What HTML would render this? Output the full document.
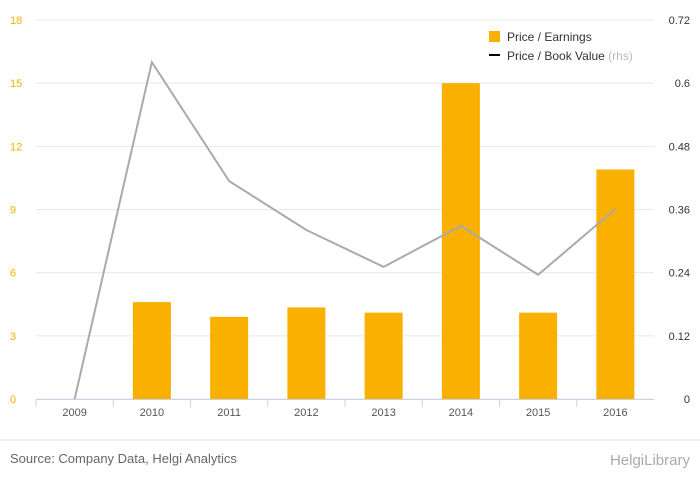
<!DOCTYPE html>
<html><head><meta charset="utf-8"><style>
body{margin:0;background:#fff;font-family:"Liberation Sans",sans-serif;}
svg text{font-family:"Liberation Sans",sans-serif;}
</style></head><body>
<svg id="chart" width="700" height="483">
<rect x="0" y="0" width="700" height="483" fill="#fff"/>
<g id="grid"></g><g id="bars"></g><g id="line"></g><g id="axes"></g>
<g>
<rect x="489" y="31" width="11" height="11" fill="#f9b000"/>
<text x="507" y="41" font-size="12" fill="#333">Price / Earnings</text>
<rect x="489" y="54" width="11" height="2" fill="#000"/>
<text x="507" y="60" font-size="12" fill="#333">Price / Book Value <tspan fill="#bbb">(rhs)</tspan></text>
</g>
<line x1="0" y1="440" x2="700" y2="440" stroke="#e6e6e6"/>
<text x="10" y="463" font-size="13" fill="#666">Source: Company Data, Helgi Analytics</text>
<text x="690" y="465" font-size="15" fill="#aaa" text-anchor="end">HelgiLibrary</text>
</svg>
<script>
const categories=["2009","2010","2011","2012","2013","2014","2015","2016"];
const peValues=[0,4.6,3.9,4.35,4.1,15,4.1,10.9];
const pbValues=[0,0.64,0.414,0.321,0.251,0.329,0.236,0.361];
const leftTicks=[0,3,6,9,12,15,18];
const rightTicks=["0","0.12","0.24","0.36","0.48","0.6","0.72"];
const NS="http://www.w3.org/2000/svg";
const x0=36,x1=654,yTop=20,yBot=399;
const step=(x1-x0)/categories.length;
function xc(i){return x0+step*(i+0.5);}
function yl(v){return yBot-(v/18)*(yBot-yTop);}
function yr(v){return yBot-(v/0.72)*(yBot-yTop);}
function mk(tag,attrs,parent){const e=document.createElementNS(NS,tag);for(const k in attrs)e.setAttribute(k,attrs[k]);document.getElementById(parent).appendChild(e);return e;}
leftTicks.forEach((t,i)=>{
 const y=yl(t);
 const g=mk("line",{x1:x0,x2:x1,y1:y,y2:y,stroke:"#e8e8e8"},"grid");
 
 
 const l=mk("text",{x:10,y:y+4,"font-size":11,fill:"#f9b000"},"axes");
 l.textContent=t;
 
 
 const r=mk("text",{x:690,y:y+4,"font-size":11,fill:"#333","text-anchor":"end"},"axes");
 r.textContent=rightTicks[i];
 
 
});
const ax=mk("line",{x1:x0,x2:x1,y1:yBot+0.5,y2:yBot+0.5,stroke:"#c8d2e6"},"axes");


categories.forEach((c,i)=>{
 const tx=x0+step*i;
 const tk=mk("line",{x1:tx,x2:tx,y1:yBot,y2:yBot+8,stroke:"#c8d2e6"},"axes");
 
 
 const t=mk("text",{x:xc(i),y:416,"font-size":11,fill:"#555","text-anchor":"middle"},"axes");
 t.textContent=c;
 
 
 const v=peValues[i];
 const b=mk("rect",{x:xc(i)-19,y:yl(v),width:38,height:yBot-yl(v),fill:"#f9b000"},"bars");
 
 
});
const pts=pbValues.map((v,i)=>xc(i)+","+yr(v)).join(" ");
const pl=mk("polyline",{points:pts,fill:"none",stroke:"#aaa","stroke-width":2},"line");


</script>
</body></html>
